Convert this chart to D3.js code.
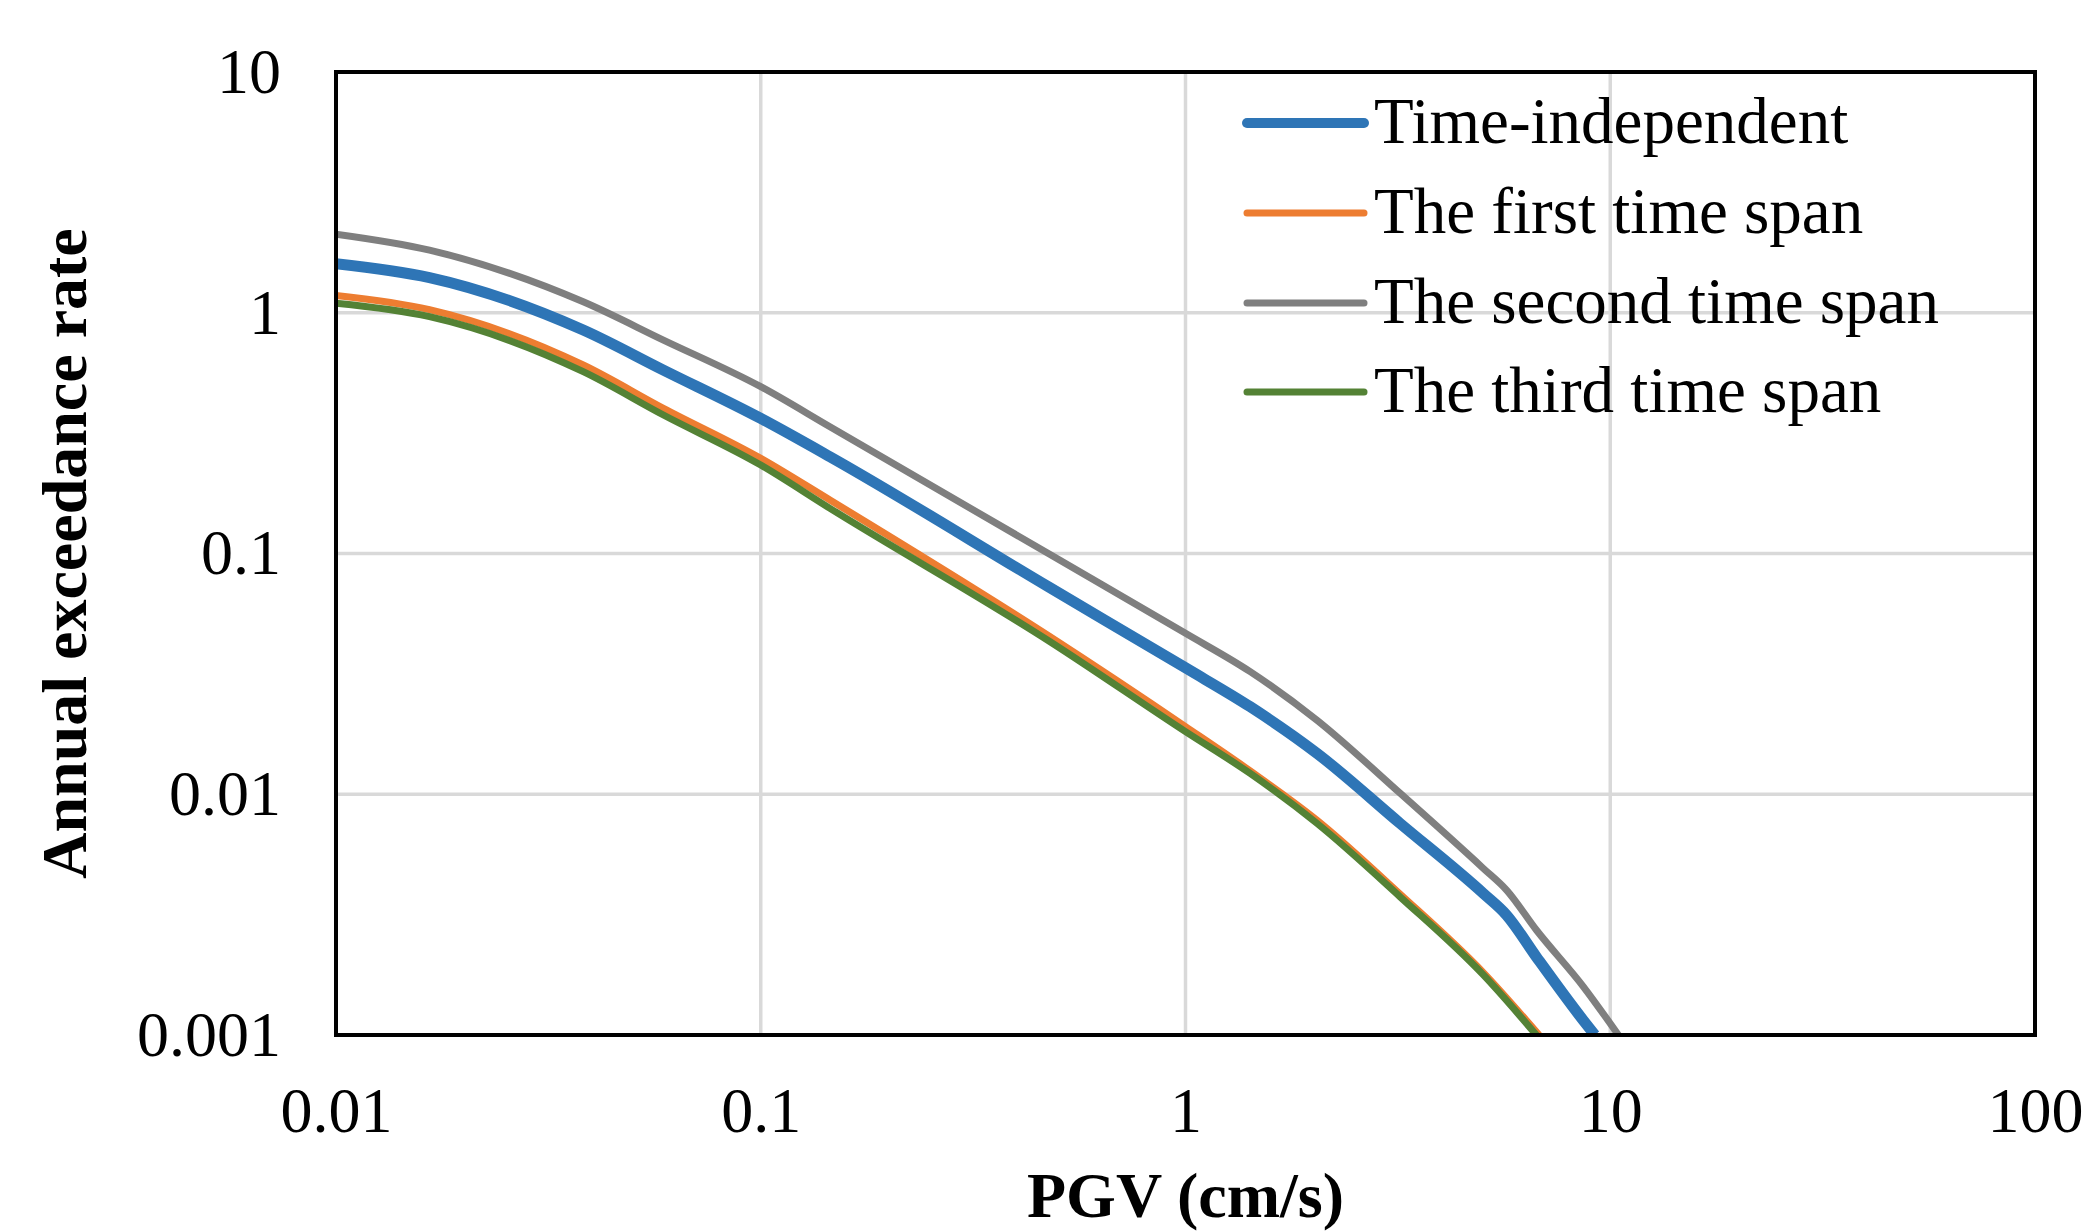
<!DOCTYPE html>
<html>
<head>
<meta charset="utf-8">
<script src="https://cdn.jsdelivr.net/npm/d3@7"></script>
<style>
  html, body { margin: 0; padding: 0; background: #ffffff; }
  svg { display: block; }
  text { font-family: "Liberation Serif", "Times New Roman", serif; fill: #000; }
</style>
</head>
<body>
<svg id="chart" width="2084" height="1231"></svg>
<script>
// ---- data ----
const seriesNames = ["Time-independent", "The first time span", "The second time span", "The third time span"];

const timeIndependentPGV = [0.01, 0.0166, 0.0382, 0.059, 0.1, 0.1455, 0.48, 1, 1.42, 2.04, 3.2, 5.02, 5.7, 6.7, 8.64, 9.2];
const timeIndependentRate = [1.60, 1.40, 0.848, 0.578, 0.364, 0.2524, 0.072, 0.0335, 0.0231, 0.01479, 0.00757, 0.00388, 0.00315, 0.00211, 0.00115, 0.001];

const firstSpanPGV = [0.01, 0.0166, 0.0382, 0.059, 0.1, 0.1455, 0.48, 1, 1.42, 2.04, 3.2, 5.02, 6.8];
const firstSpanRate = [1.18, 1.03, 0.607, 0.401, 0.2485, 0.1668, 0.0451, 0.0191, 0.0125, 0.0078, 0.00385, 0.00182, 0.001];

const secondSpanPGV = [0.01, 0.0166, 0.0382, 0.059, 0.1, 0.1455, 0.48, 1, 1.42, 2.04, 3.2, 5.02, 5.7, 6.7, 8.64, 10.45];
const secondSpanRate = [2.12, 1.82, 1.11, 0.77, 0.493, 0.336, 0.099, 0.0466, 0.0323, 0.0203, 0.0101, 0.00493, 0.0040, 0.00273, 0.00159, 0.001];

const thirdSpanPGV = [0.01, 0.0166, 0.0382, 0.059, 0.1, 0.1455, 0.48, 1, 1.42, 2.04, 3.2, 5.02, 6.7];
const thirdSpanRate = [1.095, 0.963, 0.569, 0.376, 0.233, 0.154, 0.0430, 0.0182, 0.0122, 0.00757, 0.00375, 0.00178, 0.001];

const xTickValues = [0.01, 0.1, 1, 10, 100];
const xTickLabels = ["0.01", "0.1", "1", "10", "100"];
const yTickValues = [0.001, 0.01, 0.1, 1, 10];
const yTickLabels = ["0.001", "0.01", "0.1", "1", "10"];

const xTitle = "PGV (cm/s)";
const yTitle = "Annual exceedance rate";

// ---- layout ----
const plot = { left: 336, right: 2035, top: 72, bottom: 1035 };
const colors = ["#2E75B6", "#ED7D31", "#7F7F7F", "#548235"];
const widths = [11, 7, 7, 7];

const svg = d3.select("#chart");
svg.append("rect").attr("width", 2084).attr("height", 1231).attr("fill", "#fff");

const x = d3.scaleLog().domain([0.01, 100]).range([plot.left, plot.right]);
const y = d3.scaleLog().domain([0.001, 10]).range([plot.bottom, plot.top]);

// gridlines
const grid = svg.append("g").attr("stroke", "#D9D9D9").attr("stroke-width", 3.5);
xTickValues.slice(1, -1).forEach(v => {
  grid.append("line").attr("x1", x(v)).attr("x2", x(v)).attr("y1", plot.top).attr("y2", plot.bottom);
});
yTickValues.slice(1, -1).forEach(v => {
  grid.append("line").attr("x1", plot.left).attr("x2", plot.right).attr("y1", y(v)).attr("y2", y(v));
});

// clip
svg.append("defs").append("clipPath").attr("id", "clip")
  .append("rect").attr("x", plot.left).attr("y", plot.top)
  .attr("width", plot.right - plot.left).attr("height", plot.bottom - plot.top);

const series = [
  { name: seriesNames[0], xs: timeIndependentPGV, ys: timeIndependentRate, color: colors[0], w: widths[0] },
  { name: seriesNames[1], xs: firstSpanPGV, ys: firstSpanRate, color: colors[1], w: widths[1] },
  { name: seriesNames[2], xs: secondSpanPGV, ys: secondSpanRate, color: colors[2], w: widths[2] },
  { name: seriesNames[3], xs: thirdSpanPGV, ys: thirdSpanRate, color: colors[3], w: widths[3] }
];

const line = d3.line()
  .x(d => x(d[0]))
  .y(d => y(d[1]))
  .curve(d3.curveMonotoneX);

const lines = svg.append("g").attr("clip-path", "url(#clip)");
series.forEach(s => {
  const pts = s.xs.map((v, i) => [v, s.ys[i]]);
  lines.append("path")
    .attr("d", line(pts))
    .attr("fill", "none")
    .attr("stroke", s.color)
    .attr("stroke-width", s.w)
    .attr("stroke-linejoin", "round")
    .attr("stroke-linecap", "butt");
});

// frame
svg.append("rect")
  .attr("x", plot.left).attr("y", plot.top)
  .attr("width", plot.right - plot.left).attr("height", plot.bottom - plot.top)
  .attr("fill", "none").attr("stroke", "#000").attr("stroke-width", 4);

// axes
const xAxis = d3.axisBottom(x)
  .tickValues(xTickValues)
  .tickFormat((d, i) => xTickLabels[i])
  .tickSize(0).tickPadding(52);
const gx = svg.append("g").attr("transform", `translate(0,${plot.bottom})`).call(xAxis);
gx.select(".domain").remove();
gx.selectAll("text").attr("font-size", 64).attr("font-family", "Liberation Serif, Times New Roman, serif").attr("fill", "#000");

const yAxis = d3.axisLeft(y)
  .tickValues(yTickValues)
  .tickFormat((d, i) => yTickLabels[i])
  .tickSize(0).tickPadding(55);
const gy = svg.append("g").attr("transform", `translate(${plot.left},0)`).call(yAxis);
gy.select(".domain").remove();
gy.selectAll("text").attr("font-size", 64).attr("font-family", "Liberation Serif, Times New Roman, serif").attr("fill", "#000");

// axis titles
svg.append("text")
  .attr("x", (plot.left + plot.right) / 2).attr("y", 1217)
  .attr("text-anchor", "middle").attr("font-size", 64).attr("font-weight", "bold")
  .text(xTitle);

svg.append("text")
  .attr("transform", `translate(86,${(plot.top + plot.bottom) / 2}) rotate(-90)`)
  .attr("text-anchor", "middle").attr("font-size", 64).attr("font-weight", "bold")
  .text(yTitle);

// legend
const legend = svg.append("g");
const legendRows = [123, 213, 303, 392];
series.forEach((s, i) => {
  const cy = legendRows[i];
  legend.append("line")
    .attr("x1", 1247).attr("x2", 1364).attr("y1", cy).attr("y2", cy)
    .attr("stroke", s.color).attr("stroke-width", i === 0 ? 10 : 7)
    .attr("stroke-linecap", "round");
  legend.append("text")
    .attr("x", 1374).attr("y", cy + 20)
    .attr("font-size", 65)
    .text(s.name);
});
</script>
</body>
</html>
